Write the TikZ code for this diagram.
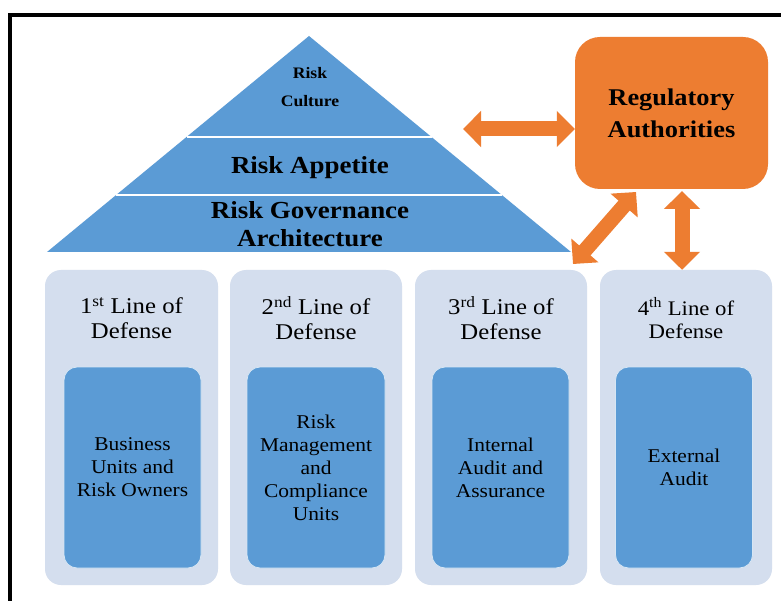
\documentclass[tikz,border=0pt]{standalone}
\usepackage{fontspec}
\setmainfont{Liberation Serif}[FakeStretch=1.1]
\usetikzlibrary{arrows.meta}
\definecolor{pblue}{HTML}{5B9BD5}
\definecolor{plight}{HTML}{D4DEEE}
\definecolor{porange}{HTML}{ED7D31}
\begin{document}
\begin{tikzpicture}[x=1pt,y=-1pt,
  panel/.style={fill=plight, rounded corners=16pt, inner sep=0pt},
  innerbox/.style={fill=pblue, draw=white!75!pblue, line width=0.8pt, rounded corners=13pt, inner sep=0pt, minimum width=137pt, minimum height=201pt},
  head/.style={align=center, font=\fontsize{22.5}{25}\selectfont},
  body/.style={align=center, font=\fontsize{19.5}{23}\selectfont},
  pyr/.style={align=center, font=\bfseries\fontsize{24.5}{28}\selectfont},
  fat/.style={porange, line width=15pt, {Triangle[width=35pt,length=18pt]}-{Triangle[width=35pt,length=18pt]}}
]
\useasboundingbox (0,0) rectangle (781,601);
\clip (0,0) rectangle (781,601);
\fill[white] (0,0) rectangle (781,601);
\draw[line width=4pt] (10,610) -- (10,15) -- (790,15);

% pyramid
\fill[pblue] (309,36) -- (571,252) -- (47,252) -- cycle;
\draw[white, line width=1.8pt] (186.5,137) -- (431.5,137);
\draw[white, line width=1.8pt] (116,195) -- (502,195);
\node[align=center, font=\bfseries\fontsize{16}{28}\selectfont] (cult) at (310,87) {Risk\\Culture};
\node[pyr] (app) at (310,168) {Risk Appetite};
\node[pyr] (gov) at (310,224) {Risk Governance\\Architecture};

% regulatory box
\node[fill=porange, rounded corners=25pt, minimum width=193pt, minimum height=152pt, inner sep=0pt,
  align=center, font=\bfseries\fontsize{24}{32}\selectfont] (reg) at (671.5,113) {Regulatory\\Authorities};

% panels
\node[panel, minimum width=173pt, minimum height=315pt] (p1) at (131.5,427.5) {};
\node[panel, minimum width=172pt, minimum height=315pt] (p2) at (316,427.5) {};
\node[panel, minimum width=172pt, minimum height=315pt] (p3) at (501,427.5) {};
\node[panel, minimum width=172pt, minimum height=315pt] (p4) at (686,427.5) {};

\node[innerbox] (i1) at (132.5,467.5) {};
\node[innerbox, minimum width=138pt] (i2) at (316,467.5) {};
\node[innerbox] (i3) at (500.5,467.5) {};
\node[innerbox] (i4) at (684,467.5) {};

\node[head] (h1) at (131.5,318) {1\textsuperscript{st} Line of\\Defense};
\node[head] (h2) at (316,318) {2\textsuperscript{nd} Line of\\Defense};
\node[head] (h3) at (501,318) {3\textsuperscript{rd} Line of\\Defense};
\node[head, font=\fontsize{20.7}{23}\selectfont] (h4) at (686,318) {4\textsuperscript{th} Line of\\Defense};

\node[body] (t1) at (i1) {Business\\Units and\\Risk Owners};
\node[body] (t2) at (i2) {Risk\\Management\\and\\Compliance\\Units};
\node[body] (t3) at (i3) {Internal\\Audit and\\Assurance};
\node[body] (t4) at (i4) {External\\Audit};

% arrows
\coordinate (hl) at (463,129);
\coordinate (dup) at (636,192);
\coordinate (dlo) at (573,264);
\coordinate (vtop) at (682,191);
\draw[fat] (hl) -- (hl -| reg.west);
\draw[fat] (dup) -- (dlo);
\draw[fat] (vtop) -- (vtop |- p4.north);
\end{tikzpicture}
\end{document}
